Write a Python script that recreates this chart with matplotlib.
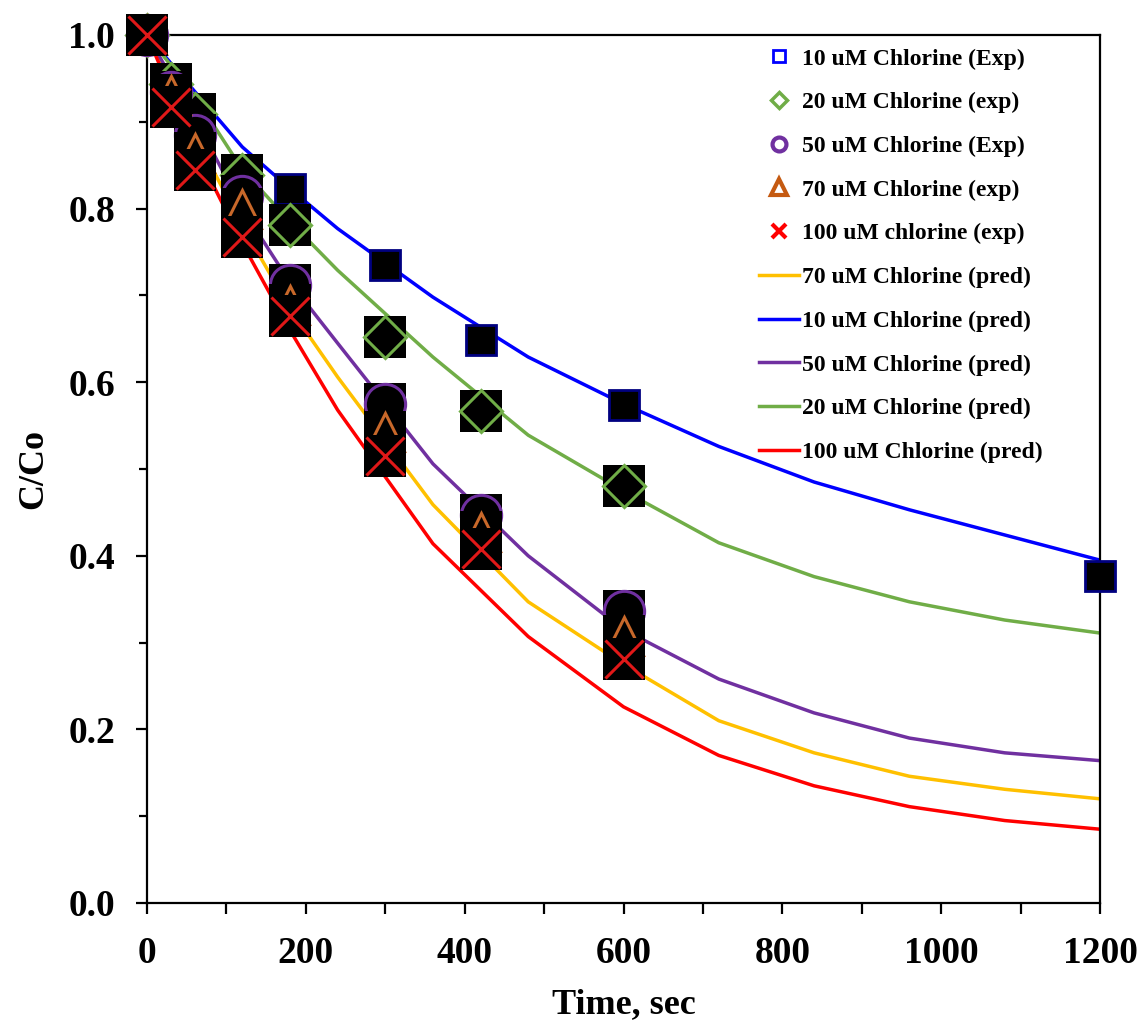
import numpy as np
import matplotlib.pyplot as plt
from matplotlib.lines import Line2D

# experimental data (C/Co vs time)
t_exp = [0, 30, 60, 120, 180, 300, 420, 600, 1200]
c10_exp = [1.0, 0.946, 0.90, 0.844, 0.823, 0.735, 0.649, 0.574, 0.377]
t_exp2 = [0, 30, 60, 120, 180, 300, 420, 600]
c20_exp = [1.0, 0.943, 0.909, 0.839, 0.781, 0.652, 0.567, 0.480]
c50_exp = [1.0, 0.934, 0.885, 0.814, 0.712, 0.575, 0.447, 0.336]
c70_exp = [1.0, 0.931, 0.864, 0.800, 0.689, 0.543, 0.427, 0.308]
c100_exp = [1.0, 0.917, 0.844, 0.767, 0.676, 0.515, 0.408, 0.281]

# model predictions
t_pred = [0, 60, 120, 180, 240, 360, 480, 600, 720, 840, 960, 1080, 1200]
c10_pred = [1.0, 0.935, 0.871, 0.823, 0.777, 0.698, 0.629, 0.575, 0.526, 0.485, 0.453, 0.424, 0.395]
c20_pred = [1.0, 0.93, 0.845, 0.785, 0.729, 0.629, 0.539, 0.475, 0.415, 0.376, 0.347, 0.326, 0.311]
c50_pred = [1.0, 0.905, 0.80, 0.715, 0.645, 0.506, 0.400, 0.315, 0.258, 0.219, 0.190, 0.173, 0.164]
c70_pred = [1.0, 0.885, 0.78, 0.685, 0.606, 0.459, 0.347, 0.275, 0.210, 0.173, 0.146, 0.131, 0.120]
c100_pred = [1.0, 0.87, 0.76, 0.66, 0.568, 0.414, 0.307, 0.226, 0.170, 0.135, 0.111, 0.095, 0.085]

blue = '#0000FF'
green = '#70AD47'
purple = '#7030A0'
orange = '#C55A11'
red = '#FF0000'
yellow = '#FFC000'

plt.rcParams['font.family'] = ['Liberation Serif', 'DejaVu Serif']
plt.rcParams['font.weight'] = 'bold'

fig = plt.figure(figsize=(11.43, 10.29), dpi=100)
ax = fig.add_axes([147/1143, 126/1029, 953/1143, 868/1029])

lw = 2.5
ax.plot(t_pred, c70_pred, color=yellow, lw=lw, zorder=2)
ax.plot(t_pred, c10_pred, color=blue, lw=lw, zorder=2)
ax.plot(t_pred, c50_pred, color=purple, lw=lw, zorder=2)
ax.plot(t_pred, c20_pred, color=green, lw=lw, zorder=2)
ax.plot(t_pred, c100_pred, color=red, lw=lw, zorder=2)

# experimental points: black boxes with the glyph drawn inside
z = 3
ax.plot(t_exp, c10_exp, 's', ms=22, mfc='black', mec='#000080', mew=2, clip_on=False, zorder=z)
z += 1
series = [(t_exp2, c20_exp, 'D', 21, green),
          (t_exp2, c50_exp, 'o', 29, purple),
          (t_exp2, c70_exp, '^', 28, '#C8682A'),
          (t_exp2, c100_exp, 'x', 28, '#E01818')]
for tt, cc, m, ms, col in series:
    for ti, ci in zip(tt, cc):
        ax.plot([ti], [ci], 's', ms=30, mfc='black', mec='black', mew=0, clip_on=False, zorder=z)
        ax.plot([ti], [ci], m, ms=ms, mfc='none', mec=col, mew=2.2, clip_on=False, zorder=z + 0.5)
        z += 1

ax.set_xlim(0, 1200)
ax.set_ylim(0, 1.0)
ax.set_xticks(np.arange(0, 1201, 200))
ax.set_xticks(np.arange(0, 1201, 100), minor=True)
ax.set_yticks(np.arange(0, 1.01, 0.2))
ax.set_yticks(np.arange(0, 1.01, 0.1), minor=True)
ax.set_yticklabels(['0.0', '0.2', '0.4', '0.6', '0.8', '1.0'])
for s in ax.spines.values():
    s.set_linewidth(1.6)
ax.tick_params(axis='both', which='major', labelsize=27, width=1.6, length=8, direction='out')
ax.tick_params(axis='y', which='major', pad=15)
ax.tick_params(axis='x', which='major', pad=16)
ax.tick_params(axis='y', which='minor', width=1.6, length=6)
ax.tick_params(axis='x', which='minor', width=1.6, length=8)
for lab in ax.get_xticklabels() + ax.get_yticklabels():
    lab.set_fontweight('bold')

ax.set_xlabel('Time, sec', fontsize=26, fontweight='bold', labelpad=12)
ax.set_ylabel('C/Co', fontsize=26, fontweight='bold', labelpad=13)

handles = [
    Line2D([], [], ls='none', marker='s', ms=9, mfc='none', mec=blue, mew=2),
    Line2D([], [], ls='none', marker='D', ms=8, mfc='none', mec=green, mew=2.5),
    Line2D([], [], ls='none', marker='o', ms=10, mfc='none', mec=purple, mew=3),
    Line2D([], [], ls='none', marker='^', ms=11, mfc='none', mec=orange, mew=3),
    Line2D([], [], ls='none', marker='x', ms=10, mfc='none', mec=red, mew=3),
    Line2D([], [], color=yellow, lw=2.5),
    Line2D([], [], color=blue, lw=2.5),
    Line2D([], [], color=purple, lw=2.5),
    Line2D([], [], color=green, lw=2.5),
    Line2D([], [], color=red, lw=2.5),
]
labels = ['10 uM Chlorine (Exp)', '20 uM Chlorine (exp)', '50 uM Chlorine (Exp)',
          '70 uM Chlorine (exp)', '100 uM chlorine (exp)', '70 uM Chlorine (pred)',
          '10 uM Chlorine (pred)', '50 uM Chlorine (pred)', '20 uM Chlorine (pred)',
          '100 uM Chlorine (pred)']
fig.legend(handles, labels, loc='upper left', bbox_to_anchor=(759/1143, 1 - 48/1029),
           bbox_transform=fig.transFigure, frameon=False, borderpad=0, borderaxespad=0,
           handlelength=1.7, handletextpad=0.1, labelspacing=0.94,
           prop={'family': 'Liberation Serif', 'weight': 'bold', 'size': 17})

fig.savefig('out.png', dpi=100)
